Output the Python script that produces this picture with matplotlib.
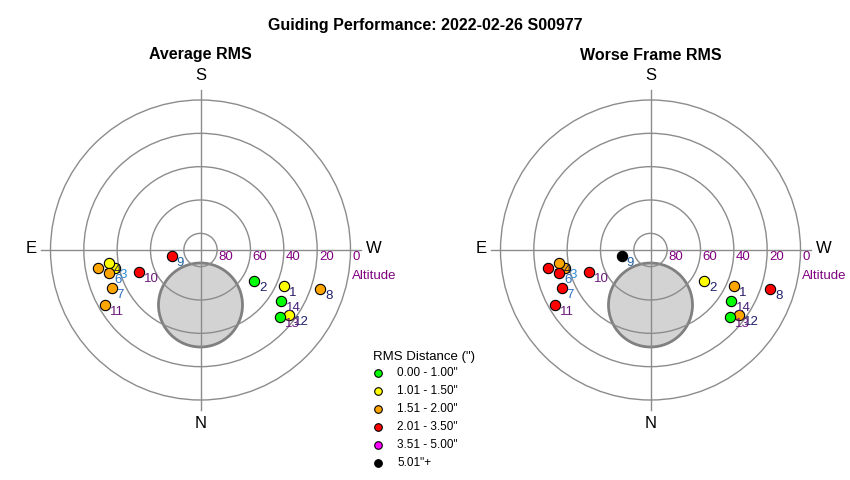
import numpy as np
import matplotlib.pyplot as plt
from matplotlib.patches import Circle

plt.rcParams['font.family'] = ['Liberation Sans', 'DejaVu Sans']

# frame positions: altitude / azimuth in degrees (azimuth N=0, E=90, S=180, W=270)
frames = [str(i) for i in range(1, 15)]
alt = [35.3, 52.8, 37.4, 34.5, 27.7, 33.5, 32.0, 14.3, 72.4, 51.0, 24.0, 24.0, 27.7, 32.8]
az = [293.3, 299.7, 78.2, 81.7, 80.0, 75.7, 66.7, 288.2, 78.2, 70.5, 60.0, 306.2, 310.0, 302.1]

# guiding RMS per frame (arcsec)
avg_rms = [1.3, 0.9, 1.2, 1.4, 1.7, 1.8, 1.6, 1.9, 2.3, 2.5, 1.7, 1.2, 0.9, 0.8]
worst_rms = [1.8, 1.4, 1.9, 1.7, 2.6, 2.8, 2.4, 3.0, 5.5, 2.9, 2.7, 1.6, 0.95, 1.0]

label_colors = ['#2b1a6b', '#1f1f6b', '#2b8ad6', '#1f1f3f', '#1f1f3f', '#2b6fc0', '#2b6fc0',
                '#1f1f6b', '#1f5f9f', '#6a1b7a', '#6a1b7a', '#1f1f6b', '#6a1b7a', '#4a1f7a']

# RMS bins
bin_edges = [1.0, 1.5, 2.0, 3.5, 5.0]
bin_colors = ['#00ff00', '#ffff00', '#ffa500', '#ff0000', '#ff00ff', '#000000']
bin_labels = ['0.00 - 1.00"', '1.01 - 1.50"', '1.51 - 2.00"', '2.01 - 3.50"', '3.51 - 5.00"', '5.01"+']

# grey restricted zone
zone_alt, zone_az, zone_radius = 57, 0, 25.2

alt_rings = [0, 20, 40, 60, 80]


def to_xy(a, z):
    r = 90 - np.asarray(a, dtype=float)
    z = np.radians(np.asarray(z, dtype=float))
    return -r * np.sin(z), -r * np.cos(z)


def draw_panel(ax, rms, title):
    ax.set_xlim(-108, 108)
    ax.set_ylim(-120, 120)
    ax.set_aspect('equal')
    ax.axis('off')

    zx, zy = to_xy(zone_alt, zone_az)
    ax.add_patch(Circle((zx, zy), zone_radius, facecolor='#d3d3d3', edgecolor='#808080', lw=2, zorder=1))
    for a in alt_rings:
        ax.add_patch(Circle((0, 0), 90 - a, fill=False, edgecolor='#8c8c8c', lw=1, zorder=2))
        ax.text(90 - a + 1.0, -4.2, str(a), color='#800080', fontsize=9.5, ha='left', va='center')
    ax.plot([-96, 96], [0, 0], color='#8c8c8c', lw=1, zorder=2)
    ax.plot([0, 0], [-96, 96], color='#8c8c8c', lw=1, zorder=2)
    ax.text(91.0, -15.5, 'Altitude', color='#800080', fontsize=9.5, ha='left', va='center')

    ax.text(0, 105, 'S', fontsize=12, ha='center', va='center')
    ax.text(0, -104, 'N', fontsize=12, ha='center', va='center')
    ax.text(-98, 1, 'E', fontsize=12, ha='right', va='center')
    ax.text(99.5, 1, 'W', fontsize=12, ha='left', va='center')
    ax.text(0, 117, title, fontsize=11.5, fontweight='bold', ha='center', va='center')

    xs, ys = to_xy(alt, az)
    for i, (x, y, v) in enumerate(zip(xs, ys, rms)):
        c = bin_colors[np.searchsorted(bin_edges, v)]
        ax.scatter([x], [y], s=55, color=c, edgecolor='black', lw=0.8, zorder=10 + 2 * i)
        ax.annotate(frames[i], (x, y), xytext=(3.4, -5), textcoords='offset points',
                    ha='left', va='center', fontsize=9.5, color=label_colors[i], zorder=11 + 2 * i)


fig = plt.figure(figsize=(8.5, 4.8), dpi=100)
ax1 = fig.add_axes([20.5 / 850, 30 / 480, 360 / 850, 400 / 480])
ax2 = fig.add_axes([470.5 / 850, 30 / 480, 360 / 850, 400 / 480])
draw_panel(ax1, avg_rms, 'Average RMS')
draw_panel(ax2, worst_rms, 'Worse Frame RMS')
fig.suptitle('Guiding Performance: 2022-02-26 S00977', y=1 - 18 / 480, fontsize=11.5, fontweight='bold')

# legend (pixel coordinates)
lg = fig.add_axes([0, 0, 1, 1], zorder=-1)
lg.set_xlim(0, 850)
lg.set_ylim(480, 0)
lg.axis('off')
lg.text(373, 357, 'RMS Distance (")', fontsize=9.5, ha='left', va='center')
for i, (c, lab) in enumerate(zip(bin_colors, bin_labels)):
    lg.scatter([378], [372.5 + 18 * i], s=30, color=c, edgecolor='black', lw=0.8)
    lg.text(397, 372.5 + 18 * i, lab, fontsize=8.5, ha='left', va='center')

fig.savefig('out.png', dpi=100)
